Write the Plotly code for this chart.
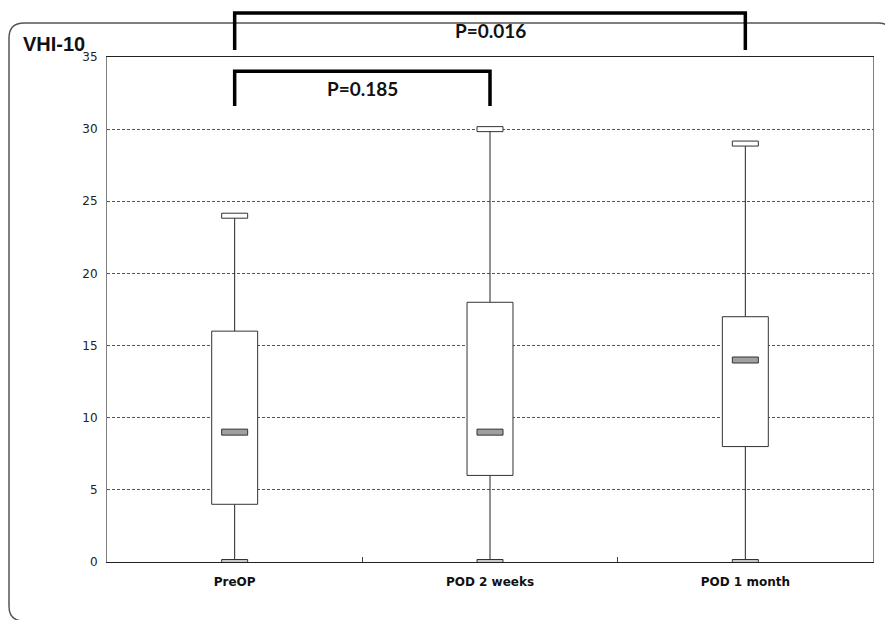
import plotly.graph_objects as go

categories = ["PreOP", "POD 2 weeks", "POD 1 month"]
mins = [0, 0, 0]
q1 = [4, 6, 8]
medians = [9, 9, 14]
q3 = [16, 18, 17]
maxs = [24, 30, 29]
y_ticks = [0, 5, 10, 15, 20, 25, 30, 35]
comparisons = [(0, 1, "P=0.185"), (0, 2, "P=0.016")]

xs = list(range(len(categories)))

fig = go.Figure()

# whiskers
wx, wy = [], []
for i in xs:
    wx += [i, i, None, i, i, None]
    wy += [q3[i], maxs[i], None, q1[i], mins[i], None]
fig.add_trace(go.Scatter(x=wx, y=wy, mode="lines", line=dict(color="#222", width=1),
                         hoverinfo="skip", showlegend=False))

shapes = []
half = 0.09
for i in xs:
    shapes.append(dict(type="rect", xref="x", yref="y", x0=i - half, x1=i + half,
                       y0=q1[i], y1=q3[i], fillcolor="white",
                       line=dict(color="#333", width=1)))
    # median marker
    shapes.append(dict(type="rect", xref="x", yref="y", xsizemode="pixel", ysizemode="pixel",
                       xanchor=i, yanchor=medians[i], x0=-13, x1=13, y0=-3, y1=3,
                       fillcolor="#a0a0a0", line=dict(color="#333", width=1)))
    # max cap
    shapes.append(dict(type="rect", xref="x", yref="y", xsizemode="pixel", ysizemode="pixel",
                       xanchor=i, yanchor=maxs[i], x0=-13, x1=13, y0=-2.5, y1=2.5,
                       fillcolor="white", line=dict(color="#333", width=1)))
    # min cap
    shapes.append(dict(type="rect", xref="x", yref="y", xsizemode="pixel", ysizemode="pixel",
                       xanchor=i, yanchor=mins[i], x0=-13, x1=13, y0=-2.5, y1=2.5,
                       fillcolor="#c8c8c8", line=dict(color="#333", width=1)))

# significance brackets (paper y positions)
bracket_levels = {(0, 1): (0.972, 0.903), (0, 2): (1.087, 1.014)}
annotations = []
for a, b, label in comparisons:
    top, leg = bracket_levels[(a, b)]
    shapes.append(dict(type="path", xref="x", yref="paper",
                       path=f"M {a},{leg} L {a},{top} L {b},{top} L {b},{leg}",
                       line=dict(color="black", width=3.5)))
    annotations.append(dict(x=(a + b) / 2, y=top - 0.035, xref="x", yref="paper",
                            xanchor="center", yanchor="middle",
                            text=f"<b>{label}</b>", showarrow=False,
                            font=dict(family="Lato", size=19, color="#111")))

# rounded outer frame (pixel positions of the page converted to paper units)
W, H = 766.0, 505.0
def px(p):
    return (p - 107) / W
def py(p):
    return (562 - p) / H
r = 15
L, T, R, B = 9, 23, 893, 621
path = (f"M {px(R)},{py(B - r)} L {px(R)},{py(T + r)} Q {px(R)},{py(T)} {px(R - r)},{py(T)} "
        f"L {px(L + r)},{py(T)} "
        f"Q {px(L)},{py(T)} {px(L)},{py(T + r)} "
        f"L {px(L)},{py(B - r)} Q {px(L)},{py(B)} {px(L + r)},{py(B)} "
        f"L {px(R - r)},{py(B)}")
shapes.append(dict(type="path", xref="paper", yref="paper", path=path,
                   line=dict(color="#555", width=1.5), layer="below"))

annotations.append(dict(x=px(21), y=py(44), xref="paper", yref="paper", xanchor="left",
                        yanchor="middle", text="<b>VHI-10</b>", showarrow=False,
                        font=dict(family="Liberation Sans", size=20, color="#111")))

fig.update_layout(
    width=885, height=620,
    margin=dict(l=107, r=12, t=57, b=58),
    paper_bgcolor="white", plot_bgcolor="white",
    shapes=shapes, annotations=annotations,
    showlegend=False,
    xaxis=dict(range=[-0.5, 2.5], tickmode="array", tickvals=xs, ticktext=[f"<b>{c}</b>" for c in categories],
               showgrid=False, zeroline=False, showline=True, linecolor="#222", linewidth=1,
               mirror=True, ticks="", tickfont=dict(family="DejaVu Sans", size=12, color="#111"),
               ticklabelstandoff=9,
               minor=dict(tickmode="array", tickvals=[0.5, 1.5], ticks="inside", ticklen=5,
                          tickcolor="#444", showgrid=False)),
    yaxis=dict(range=[0, 35], tickmode="array", tickvals=y_ticks, showgrid=True,
               gridcolor="#555", griddash="3px,2px", gridwidth=1, zeroline=False,
               showline=True, linecolor="#808080", linewidth=1, mirror=True, ticks="",
               tickfont=dict(family="DejaVu Sans", size=12, color="#222"),
               ticklabelstandoff=6),
)

fig.write_html("out.html", config={"displayModeBar": False},
               post_script="document.body.style.margin='0';document.body.style.padding='0';"
                           "document.body.style.overflow='hidden';")
